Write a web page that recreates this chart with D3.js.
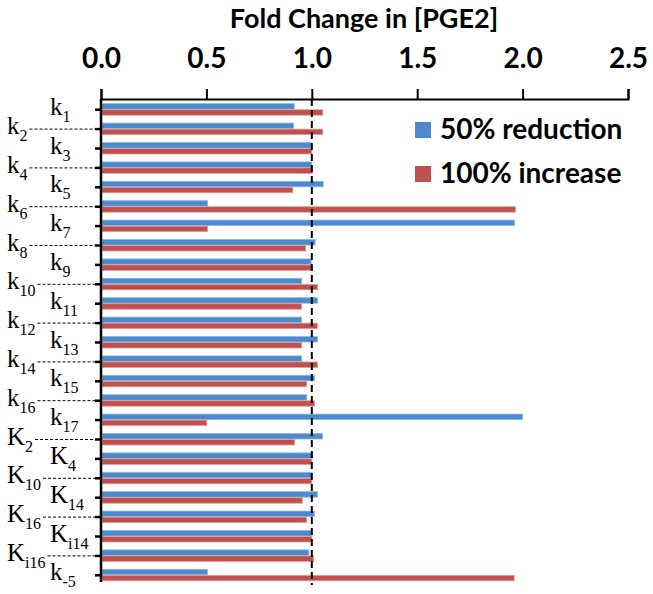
<!DOCTYPE html>
<html><head><meta charset="utf-8">
<script src="https://cdn.jsdelivr.net/npm/d3@7"></script>
<style>body{margin:0;background:#fff}svg{display:block}</style>
</head><body>
<svg id="chart" width="653" height="594"></svg>
<script>
const categories = ["k1","k2","k3","k4","k5","k6","k7","k8","k9","k10","k11","k12","k13","k14","k15","k16","k17","K2","K4","K10","K14","K16","Ki14","Ki16","k-5"];
const reduction50 = [0.917,0.914,0.997,1.0,1.054,0.506,1.962,1.016,0.997,0.952,1.027,0.952,1.027,0.952,1.013,0.976,2.0,1.05,1.003,1.0,1.027,1.013,1.0,0.986,0.506];
const increase100 = [1.052,1.052,1.0,1.003,0.91,1.966,0.506,0.971,1.0,1.027,0.952,1.027,0.952,1.027,0.976,1.013,0.502,0.919,1.0,1.0,0.955,0.976,1.0,1.009,1.96];
const seriesNames = ["50% reduction","100% increase"];
const tickValues = [0,0.5,1.0,1.5,2.0,2.5];
const colors = ["#4a8acd","#c0504d"];
const strokes = ["#8fb8e4","#e0a09e"];

const svg = d3.select("#chart");
const x = d3.scaleLinear().domain([0,2.5]).range([101,628]);
const y = d3.scaleBand().domain(categories).range([100,585]).paddingInner(0.38).paddingOuter(0.19);
const ys = d3.scaleBand().domain([0,1]).range([0,y.bandwidth()]);

const series = [reduction50, increase100];

// bars
series.forEach((vals,si)=>{
  svg.append("g").selectAll("rect").data(categories).join("rect")
    .attr("x", x(0)+1)
    .attr("y", d=>y(d)+ys(si))
    .attr("height", ys.bandwidth()-0.5)
    .attr("width", (d,i)=>x(vals[i])-x(0)-1)
    .attr("fill", colors[si])
    .attr("stroke", strokes[si]).attr("stroke-width",0.8);
});

// reference dashed line at 1.0
svg.append("line").attr("x1",x(1)).attr("x2",x(1)).attr("y1",99).attr("y2",585)
  .attr("stroke","#000").attr("stroke-width",2).attr("stroke-dasharray","7,4");

// top axis
const xAxis = d3.axisTop(x).tickValues(tickValues).tickFormat(d3.format(".1f")).tickSize(10).tickSizeOuter(10);
const gx = svg.append("g").attr("transform","translate(0,99)").call(xAxis);
gx.selectAll("path,line").attr("stroke","#000").attr("stroke-width",2);
gx.selectAll("text").attr("font-family","Lato, 'Open Sans', sans-serif").attr("font-weight","bold")
  .attr("font-size",28).attr("fill","#000").attr("y",-31).attr("dy",0);

// left axis
const yAxis = d3.axisLeft(y).tickFormat("").tickSize(6).tickSizeOuter(0);
const gy = svg.append("g").attr("transform","translate(101,0)").call(yAxis);
gy.selectAll("path,line").attr("stroke","#000").attr("stroke-width",2.5);
gy.select("path").attr("d","M0,99V582");

// category labels
const labG = svg.append("g").attr("font-family","'Liberation Serif','Times New Roman',serif").attr("fill","#000");
categories.forEach((c,i)=>{
  const cy = y(c)+y.bandwidth()/2;
  const inner = i%2===0;
  const t = labG.append("text").attr("x", inner?50:7).attr("y", cy+5).attr("font-size",25);
  t.append("tspan").text(c[0]);
  t.append("tspan").attr("font-size",16).attr("dy",7).text(c.slice(1));
  if(!inner){
    const bb = t.node().getBBox();
    labG.append("line").attr("x1",bb.x+bb.width+2).attr("x2",95).attr("y1",cy).attr("y2",cy)
      .attr("stroke","#000").attr("stroke-width",1).attr("stroke-dasharray","3,2");
  }
});

// title
svg.append("text").attr("x",364).attr("y",28).attr("text-anchor","middle")
  .attr("font-family","Lato, 'Open Sans', sans-serif").attr("font-weight","bold").attr("font-size",27)
  .text("Fold Change in [PGE2]");

// legend
const lg = svg.append("g");
seriesNames.forEach((n,i)=>{
  lg.append("rect").attr("x",415).attr("y",122+i*44).attr("width",16).attr("height",16).attr("fill",colors[i]);
  lg.append("text").attr("x",440).attr("y",139+i*44)
    .attr("font-family","Lato, 'Open Sans', sans-serif").attr("font-weight","bold").attr("font-size",28)
    .text(n);
});
</script>
</body></html>
